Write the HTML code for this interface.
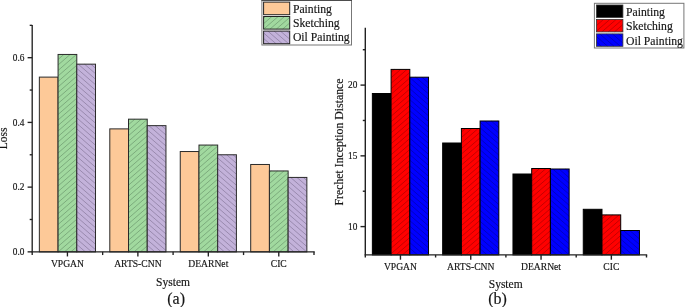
<!DOCTYPE html>
<html><head><meta charset="utf-8"><title>Figure</title>
<style>
html,body{margin:0;padding:0;background:#fff;}
body{width:685px;height:307px;overflow:hidden;}
svg{display:block;}
text{font-family:"Liberation Serif","Times New Roman",serif;fill:#151515;stroke:#151515;stroke-width:0.16px;}
</style></head><body>
<svg width="685" height="307" viewBox="0 0 685 307">
<rect width="685" height="307" fill="#fff"/>

<rect x="39.35" y="77.11" width="18.72" height="174.74" fill="#fdc998"/>
<rect x="39.35" y="77.11" width="18.72" height="174.74" fill="none" stroke="#2a2a2a" stroke-width="1"/>
<rect x="58.07" y="54.45" width="18.72" height="197.4" fill="#a1d99f"/>
<path d="M58.07 59.48L63.85 54.45M58.07 64.98L70.17 54.45M58.07 70.48L76.49 54.45M58.07 75.98L76.79 59.7M58.07 81.48L76.79 65.2M58.07 86.98L76.79 70.7M58.07 92.48L76.79 76.2M58.07 97.98L76.79 81.7M58.07 103.48L76.79 87.2M58.07 108.98L76.79 92.7M58.07 114.48L76.79 98.2M58.07 119.98L76.79 103.7M58.07 125.48L76.79 109.2M58.07 130.98L76.79 114.7M58.07 136.48L76.79 120.2M58.07 141.98L76.79 125.7M58.07 147.48L76.79 131.2M58.07 152.98L76.79 136.7M58.07 158.48L76.79 142.2M58.07 163.98L76.79 147.7M58.07 169.48L76.79 153.2M58.07 174.98L76.79 158.7M58.07 180.48L76.79 164.2M58.07 185.98L76.79 169.7M58.07 191.48L76.79 175.2M58.07 196.98L76.79 180.7M58.07 202.48L76.79 186.2M58.07 207.98L76.79 191.7M58.07 213.48L76.79 197.2M58.07 218.98L76.79 202.7M58.07 224.48L76.79 208.2M58.07 229.98L76.79 213.7M58.07 235.48L76.79 219.2M58.07 240.98L76.79 224.7M58.07 246.48L76.79 230.2M58.22 251.85L76.79 235.7M64.54 251.85L76.79 241.2M70.86 251.85L76.79 246.7" stroke="#26402a" stroke-opacity="0.6" stroke-width="0.5" fill="none"/>
<rect x="58.07" y="54.45" width="18.72" height="197.4" fill="none" stroke="#2a2a2a" stroke-width="1"/>
<rect x="76.79" y="64.16" width="18.72" height="187.69" fill="#c3b2da"/>
<path d="M76.79 249.9L79.02 251.85M76.79 244.4L85.34 251.85M76.79 238.9L91.67 251.85M76.79 233.4L95.51 249.69M76.79 227.9L95.51 244.19M76.79 222.4L95.51 238.69M76.79 216.9L95.51 233.19M76.79 211.4L95.51 227.69M76.79 205.9L95.51 222.19M76.79 200.4L95.51 216.69M76.79 194.9L95.51 211.19M76.79 189.4L95.51 205.69M76.79 183.9L95.51 200.19M76.79 178.4L95.51 194.69M76.79 172.9L95.51 189.19M76.79 167.4L95.51 183.69M76.79 161.9L95.51 178.19M76.79 156.4L95.51 172.69M76.79 150.9L95.51 167.19M76.79 145.4L95.51 161.69M76.79 139.9L95.51 156.19M76.79 134.4L95.51 150.69M76.79 128.9L95.51 145.19M76.79 123.4L95.51 139.69M76.79 117.9L95.51 134.19M76.79 112.4L95.51 128.69M76.79 106.9L95.51 123.19M76.79 101.4L95.51 117.69M76.79 95.9L95.51 112.19M76.79 90.4L95.51 106.69M76.79 84.9L95.51 101.19M76.79 79.4L95.51 95.69M76.79 73.9L95.51 90.19M76.79 68.4L95.51 84.69M78.23 64.16L95.51 79.19M84.55 64.16L95.51 73.69M90.88 64.16L95.51 68.19" stroke="#352a45" stroke-opacity="0.6" stroke-width="0.5" fill="none"/>
<rect x="76.79" y="64.16" width="18.72" height="187.69" fill="none" stroke="#2a2a2a" stroke-width="1"/>
<rect x="109.8" y="128.88" width="18.72" height="122.97" fill="#fdc998"/>
<rect x="109.8" y="128.88" width="18.72" height="122.97" fill="none" stroke="#2a2a2a" stroke-width="1"/>
<rect x="128.51" y="119.17" width="18.72" height="132.68" fill="#a1d99f"/>
<path d="M128.51 124.69L134.86 119.17M128.51 130.19L141.18 119.17M128.51 135.69L147.23 119.41M128.51 141.19L147.23 124.91M128.51 146.69L147.23 130.41M128.51 152.19L147.23 135.91M128.51 157.69L147.23 141.41M128.51 163.19L147.23 146.91M128.51 168.69L147.23 152.41M128.51 174.19L147.23 157.91M128.51 179.69L147.23 163.41M128.51 185.19L147.23 168.91M128.51 190.69L147.23 174.41M128.51 196.19L147.23 179.91M128.51 201.69L147.23 185.41M128.51 207.19L147.23 190.91M128.51 212.69L147.23 196.41M128.51 218.19L147.23 201.91M128.51 223.69L147.23 207.41M128.51 229.19L147.23 212.91M128.51 234.69L147.23 218.41M128.51 240.19L147.23 223.91M128.51 245.69L147.23 229.41M128.51 251.19L147.23 234.91M134.08 251.85L147.23 240.41M140.4 251.85L147.23 245.91M146.72 251.85L147.23 251.41" stroke="#26402a" stroke-opacity="0.6" stroke-width="0.5" fill="none"/>
<rect x="128.51" y="119.17" width="18.72" height="132.68" fill="none" stroke="#2a2a2a" stroke-width="1"/>
<rect x="147.24" y="125.65" width="18.72" height="126.2" fill="#c3b2da"/>
<path d="M147.24 250.69L148.56 251.85M147.24 245.19L154.89 251.85M147.24 239.69L161.21 251.85M147.24 234.19L165.96 250.48M147.24 228.69L165.96 244.98M147.24 223.19L165.96 239.48M147.24 217.69L165.96 233.98M147.24 212.19L165.96 228.48M147.24 206.69L165.96 222.98M147.24 201.19L165.96 217.48M147.24 195.69L165.96 211.98M147.24 190.19L165.96 206.48M147.24 184.69L165.96 200.98M147.24 179.19L165.96 195.48M147.24 173.69L165.96 189.98M147.24 168.19L165.96 184.48M147.24 162.69L165.96 178.98M147.24 157.19L165.96 173.48M147.24 151.69L165.96 167.98M147.24 146.19L165.96 162.48M147.24 140.69L165.96 156.98M147.24 135.19L165.96 151.48M147.24 129.69L165.96 145.98M148.9 125.65L165.96 140.48M155.23 125.65L165.96 134.98M161.55 125.65L165.96 129.48" stroke="#352a45" stroke-opacity="0.6" stroke-width="0.5" fill="none"/>
<rect x="147.24" y="125.65" width="18.72" height="126.2" fill="none" stroke="#2a2a2a" stroke-width="1"/>
<rect x="180.25" y="151.53" width="18.72" height="100.32" fill="#fdc998"/>
<rect x="180.25" y="151.53" width="18.72" height="100.32" fill="none" stroke="#2a2a2a" stroke-width="1"/>
<rect x="198.97" y="145.06" width="18.72" height="106.79" fill="#a1d99f"/>
<path d="M198.97 145.9L199.93 145.06M198.97 151.4L206.25 145.06M198.97 156.9L212.57 145.06M198.97 162.4L217.69 146.11M198.97 167.9L217.69 151.61M198.97 173.4L217.69 157.11M198.97 178.9L217.69 162.61M198.97 184.4L217.69 168.11M198.97 189.9L217.69 173.61M198.97 195.4L217.69 179.11M198.97 200.9L217.69 184.61M198.97 206.4L217.69 190.11M198.97 211.9L217.69 195.61M198.97 217.4L217.69 201.11M198.97 222.9L217.69 206.61M198.97 228.4L217.69 212.11M198.97 233.9L217.69 217.61M198.97 239.4L217.69 223.11M198.97 244.9L217.69 228.61M198.97 250.4L217.69 234.11M203.62 251.85L217.69 239.61M209.94 251.85L217.69 245.11M216.26 251.85L217.69 250.61" stroke="#26402a" stroke-opacity="0.6" stroke-width="0.5" fill="none"/>
<rect x="198.97" y="145.06" width="18.72" height="106.79" fill="none" stroke="#2a2a2a" stroke-width="1"/>
<rect x="217.69" y="154.77" width="18.72" height="97.08" fill="#c3b2da"/>
<path d="M217.69 251.49L218.1 251.85M217.69 245.99L224.43 251.85M217.69 240.49L230.75 251.85M217.69 234.99L236.41 251.27M217.69 229.49L236.41 245.77M217.69 223.99L236.41 240.27M217.69 218.49L236.41 234.77M217.69 212.99L236.41 229.27M217.69 207.49L236.41 223.77M217.69 201.99L236.41 218.27M217.69 196.49L236.41 212.77M217.69 190.99L236.41 207.27M217.69 185.49L236.41 201.77M217.69 179.99L236.41 196.27M217.69 174.49L236.41 190.77M217.69 168.99L236.41 185.27M217.69 163.49L236.41 179.77M217.69 157.99L236.41 174.27M220.31 154.77L236.41 168.77M226.63 154.77L236.41 163.27M232.95 154.77L236.41 157.77" stroke="#352a45" stroke-opacity="0.6" stroke-width="0.5" fill="none"/>
<rect x="217.69" y="154.77" width="18.72" height="97.08" fill="none" stroke="#2a2a2a" stroke-width="1"/>
<rect x="250.7" y="164.48" width="18.72" height="87.37" fill="#fdc998"/>
<rect x="250.7" y="164.48" width="18.72" height="87.37" fill="none" stroke="#2a2a2a" stroke-width="1"/>
<rect x="269.42" y="170.95" width="18.72" height="80.9" fill="#a1d99f"/>
<path d="M269.42 172.61L271.32 170.95M269.42 178.11L277.64 170.95M269.42 183.61L283.97 170.95M269.42 189.11L288.14 172.82M269.42 194.61L288.14 178.32M269.42 200.11L288.14 183.82M269.42 205.61L288.14 189.32M269.42 211.11L288.14 194.82M269.42 216.61L288.14 200.32M269.42 222.11L288.14 205.82M269.42 227.61L288.14 211.32M269.42 233.11L288.14 216.82M269.42 238.61L288.14 222.32M269.42 244.11L288.14 227.82M269.42 249.61L288.14 233.32M273.16 251.85L288.14 238.82M279.48 251.85L288.14 244.32M285.8 251.85L288.14 249.82" stroke="#26402a" stroke-opacity="0.6" stroke-width="0.5" fill="none"/>
<rect x="269.42" y="170.95" width="18.72" height="80.9" fill="none" stroke="#2a2a2a" stroke-width="1"/>
<rect x="288.14" y="177.42" width="18.72" height="74.43" fill="#c3b2da"/>
<path d="M288.14 246.78L293.97 251.85M288.14 241.28L300.29 251.85M288.14 235.78L306.61 251.85M288.14 230.28L306.86 246.56M288.14 224.78L306.86 241.06M288.14 219.28L306.86 235.56M288.14 213.78L306.86 230.06M288.14 208.28L306.86 224.56M288.14 202.78L306.86 219.06M288.14 197.28L306.86 213.56M288.14 191.78L306.86 208.06M288.14 186.28L306.86 202.56M288.14 180.78L306.86 197.06M290.6 177.42L306.86 191.56M296.92 177.42L306.86 186.06M303.24 177.42L306.86 180.56" stroke="#352a45" stroke-opacity="0.6" stroke-width="0.5" fill="none"/>
<rect x="288.14" y="177.42" width="18.72" height="74.43" fill="none" stroke="#2a2a2a" stroke-width="1"/>
<g stroke="#222" stroke-width="1.35" fill="none">
<line x1="32.2" y1="25.02" x2="32.2" y2="255.05"/>
<line x1="31.53" y1="251.85" x2="314.68" y2="251.85"/>
<line x1="314" y1="251.85" x2="314" y2="255.05"/>
<line x1="67.43" y1="251.85" x2="67.43" y2="256.45"/>
<line x1="102.65" y1="251.85" x2="102.65" y2="255.05"/>
<line x1="137.88" y1="251.85" x2="137.88" y2="256.45"/>
<line x1="173.1" y1="251.85" x2="173.1" y2="255.05"/>
<line x1="208.32" y1="251.85" x2="208.32" y2="256.45"/>
<line x1="243.55" y1="251.85" x2="243.55" y2="255.05"/>
<line x1="278.78" y1="251.85" x2="278.78" y2="256.45"/>
<line x1="27.6" y1="251.85" x2="32.2" y2="251.85"/>
<line x1="27.6" y1="187.13" x2="32.2" y2="187.13"/>
<line x1="27.6" y1="122.41" x2="32.2" y2="122.41"/>
<line x1="27.6" y1="57.69" x2="32.2" y2="57.69"/>
<line x1="29.7" y1="219.49" x2="32.2" y2="219.49"/>
<line x1="29.7" y1="154.77" x2="32.2" y2="154.77"/>
<line x1="29.7" y1="90.05" x2="32.2" y2="90.05"/>
<line x1="29.7" y1="25.33" x2="32.2" y2="25.33"/>
</g>
<text x="67.43" y="266.9" font-size="9.6" text-anchor="middle">VPGAN</text>
<text x="137.88" y="266.9" font-size="9.6" text-anchor="middle">ARTS-CNN</text>
<text x="208.32" y="266.9" font-size="9.6" text-anchor="middle">DEARNet</text>
<text x="278.78" y="266.9" font-size="9.6" text-anchor="middle">CIC</text>
<text x="24.4" y="255.05" font-size="9.3" text-anchor="end">0.0</text>
<text x="24.4" y="190.33" font-size="9.3" text-anchor="end">0.2</text>
<text x="24.4" y="125.61" font-size="9.3" text-anchor="end">0.4</text>
<text x="24.4" y="60.89" font-size="9.3" text-anchor="end">0.6</text>
<text x="173" y="285.5" font-size="11.5" text-anchor="middle">System</text>
<text x="176.1" y="304" font-size="16" text-anchor="middle">(a)</text>
<text transform="translate(7.4,138.4) rotate(-90)" font-size="11.5" text-anchor="middle">Loss</text>
<rect x="261.9" y="0.2" width="89.6" height="44.8" fill="#fff" stroke="#777" stroke-width="1"/>
<rect x="261.4" y="0" width="90.6" height="0.9" fill="#444"/>
<rect x="263.6" y="2.1" width="26.1" height="12.6" fill="#fdc998"/>
<rect x="263.6" y="2.1" width="26.1" height="12.6" fill="none" stroke="#222" stroke-width="1"/>
<text x="292.9" y="13.0" font-size="11.7">Painting</text>
<rect x="263.6" y="16.5" width="26.1" height="12.6" fill="#a1d99f"/>
<path d="M263.6 18.17L265.52 16.5M263.6 23.67L271.84 16.5M263.68 29.1L278.16 16.5M270 29.1L284.48 16.5M276.32 29.1L289.7 17.46M282.64 29.1L289.7 22.96M288.97 29.1L289.7 28.46" stroke="#26402a" stroke-opacity="0.6" stroke-width="0.5" fill="none"/>
<rect x="263.6" y="16.5" width="26.1" height="12.6" fill="none" stroke="#222" stroke-width="1"/>
<text x="292.9" y="27.2" font-size="11.7">Sketching</text>
<rect x="263.6" y="31.1" width="26.1" height="12.6" fill="#c3b2da"/>
<path d="M263.6 38.43L269.66 43.7M263.6 32.93L275.98 43.7M267.82 31.1L282.3 43.7M274.14 31.1L288.62 43.7M280.46 31.1L289.7 39.14M286.78 31.1L289.7 33.64" stroke="#352a45" stroke-opacity="0.6" stroke-width="0.5" fill="none"/>
<rect x="263.6" y="31.1" width="26.1" height="12.6" fill="none" stroke="#222" stroke-width="1"/>
<text x="292.9" y="41.2" font-size="11.7">Oil Painting</text>
<rect x="372.37" y="93.5" width="18.72" height="161.4" fill="#000"/>
<rect x="372.37" y="93.5" width="18.72" height="161.4" fill="none" stroke="#000" stroke-width="1"/>
<rect x="391.09" y="69.4" width="18.72" height="185.5" fill="#ff0000"/>
<path d="M391.09 72.25L394.37 69.4M391.09 77.75L400.69 69.4M391.09 83.25L407.01 69.4M391.09 88.75L409.81 72.47M391.09 94.25L409.81 77.97M391.09 99.75L409.81 83.47M391.09 105.25L409.81 88.97M391.09 110.75L409.81 94.47M391.09 116.25L409.81 99.97M391.09 121.75L409.81 105.47M391.09 127.25L409.81 110.97M391.09 132.75L409.81 116.47M391.09 138.25L409.81 121.97M391.09 143.75L409.81 127.47M391.09 149.25L409.81 132.97M391.09 154.75L409.81 138.47M391.09 160.25L409.81 143.97M391.09 165.75L409.81 149.47M391.09 171.25L409.81 154.97M391.09 176.75L409.81 160.47M391.09 182.25L409.81 165.97M391.09 187.75L409.81 171.47M391.09 193.25L409.81 176.97M391.09 198.75L409.81 182.47M391.09 204.25L409.81 187.97M391.09 209.75L409.81 193.47M391.09 215.25L409.81 198.97M391.09 220.75L409.81 204.47M391.09 226.25L409.81 209.97M391.09 231.75L409.81 215.47M391.09 237.25L409.81 220.97M391.09 242.75L409.81 226.47M391.09 248.25L409.81 231.97M391.09 253.75L409.81 237.47M396.09 254.9L409.81 242.97M402.41 254.9L409.81 248.47M408.74 254.9L409.81 253.97" stroke="#400000" stroke-opacity="0.62" stroke-width="0.5" fill="none"/>
<rect x="391.09" y="69.4" width="18.72" height="185.5" fill="none" stroke="#000" stroke-width="1"/>
<rect x="409.81" y="77.2" width="18.72" height="177.7" fill="#0000ff"/>
<path d="M409.81 253.63L411.26 254.9M409.81 248.13L417.59 254.9M409.81 242.63L423.91 254.9M409.81 237.13L428.53 253.42M409.81 231.63L428.53 247.92M409.81 226.13L428.53 242.42M409.81 220.63L428.53 236.92M409.81 215.13L428.53 231.42M409.81 209.63L428.53 225.92M409.81 204.13L428.53 220.42M409.81 198.63L428.53 214.92M409.81 193.13L428.53 209.42M409.81 187.63L428.53 203.92M409.81 182.13L428.53 198.42M409.81 176.63L428.53 192.92M409.81 171.13L428.53 187.42M409.81 165.63L428.53 181.92M409.81 160.13L428.53 176.42M409.81 154.63L428.53 170.92M409.81 149.13L428.53 165.42M409.81 143.63L428.53 159.92M409.81 138.13L428.53 154.42M409.81 132.63L428.53 148.92M409.81 127.13L428.53 143.42M409.81 121.63L428.53 137.92M409.81 116.13L428.53 132.42M409.81 110.63L428.53 126.92M409.81 105.13L428.53 121.42M409.81 99.63L428.53 115.92M409.81 94.13L428.53 110.42M409.81 88.63L428.53 104.92M409.81 83.13L428.53 99.42M409.81 77.63L428.53 93.92M415.63 77.2L428.53 88.42M421.95 77.2L428.53 82.92" stroke="#000040" stroke-opacity="0.62" stroke-width="0.5" fill="none"/>
<rect x="409.81" y="77.2" width="18.72" height="177.7" fill="none" stroke="#000" stroke-width="1"/>
<rect x="442.67" y="143" width="18.72" height="111.9" fill="#000"/>
<rect x="442.67" y="143" width="18.72" height="111.9" fill="none" stroke="#000" stroke-width="1"/>
<rect x="461.39" y="128.5" width="18.72" height="126.4" fill="#ff0000"/>
<path d="M461.39 132.09L465.52 128.5M461.39 137.59L471.84 128.5M461.39 143.09L478.16 128.5M461.39 148.59L480.11 132.3M461.39 154.09L480.11 137.8M461.39 159.59L480.11 143.3M461.39 165.09L480.11 148.8M461.39 170.59L480.11 154.3M461.39 176.09L480.11 159.8M461.39 181.59L480.11 165.3M461.39 187.09L480.11 170.8M461.39 192.59L480.11 176.3M461.39 198.09L480.11 181.8M461.39 203.59L480.11 187.3M461.39 209.09L480.11 192.8M461.39 214.59L480.11 198.3M461.39 220.09L480.11 203.8M461.39 225.59L480.11 209.3M461.39 231.09L480.11 214.8M461.39 236.59L480.11 220.3M461.39 242.09L480.11 225.8M461.39 247.59L480.11 231.3M461.39 253.09L480.11 236.8M465.63 254.9L480.11 242.3M471.95 254.9L480.11 247.8M478.28 254.9L480.11 253.3" stroke="#400000" stroke-opacity="0.62" stroke-width="0.5" fill="none"/>
<rect x="461.39" y="128.5" width="18.72" height="126.4" fill="none" stroke="#000" stroke-width="1"/>
<rect x="480.11" y="121" width="18.72" height="133.9" fill="#0000ff"/>
<path d="M480.11 254.3L480.8 254.9M480.11 248.8L487.13 254.9M480.11 243.3L493.45 254.9M480.11 237.8L498.83 254.08M480.11 232.3L498.83 248.58M480.11 226.8L498.83 243.08M480.11 221.3L498.83 237.58M480.11 215.8L498.83 232.08M480.11 210.3L498.83 226.58M480.11 204.8L498.83 221.08M480.11 199.3L498.83 215.58M480.11 193.8L498.83 210.08M480.11 188.3L498.83 204.58M480.11 182.8L498.83 199.08M480.11 177.3L498.83 193.58M480.11 171.8L498.83 188.08M480.11 166.3L498.83 182.58M480.11 160.8L498.83 177.08M480.11 155.3L498.83 171.58M480.11 149.8L498.83 166.08M480.11 144.3L498.83 160.58M480.11 138.8L498.83 155.08M480.11 133.3L498.83 149.58M480.11 127.8L498.83 144.08M480.11 122.3L498.83 138.58M484.94 121L498.83 133.08M491.26 121L498.83 127.58M497.59 121L498.83 122.08" stroke="#000040" stroke-opacity="0.62" stroke-width="0.5" fill="none"/>
<rect x="480.11" y="121" width="18.72" height="133.9" fill="none" stroke="#000" stroke-width="1"/>
<rect x="512.97" y="174" width="18.72" height="80.9" fill="#000"/>
<rect x="512.97" y="174" width="18.72" height="80.9" fill="none" stroke="#000" stroke-width="1"/>
<rect x="531.69" y="168.5" width="18.72" height="86.4" fill="#ff0000"/>
<path d="M531.69 169.93L533.33 168.5M531.69 175.43L539.66 168.5M531.69 180.93L545.98 168.5M531.69 186.43L550.41 170.14M531.69 191.93L550.41 175.64M531.69 197.43L550.41 181.14M531.69 202.93L550.41 186.64M531.69 208.43L550.41 192.14M531.69 213.93L550.41 197.64M531.69 219.43L550.41 203.14M531.69 224.93L550.41 208.64M531.69 230.43L550.41 214.14M531.69 235.93L550.41 219.64M531.69 241.43L550.41 225.14M531.69 246.93L550.41 230.64M531.69 252.43L550.41 236.14M535.17 254.9L550.41 241.64M541.49 254.9L550.41 247.14M547.82 254.9L550.41 252.64" stroke="#400000" stroke-opacity="0.62" stroke-width="0.5" fill="none"/>
<rect x="531.69" y="168.5" width="18.72" height="86.4" fill="none" stroke="#000" stroke-width="1"/>
<rect x="550.41" y="169" width="18.72" height="85.9" fill="#0000ff"/>
<path d="M550.41 249.46L556.67 254.9M550.41 243.96L562.99 254.9M550.41 238.46L569.13 254.74M550.41 232.96L569.13 249.24M550.41 227.46L569.13 243.74M550.41 221.96L569.13 238.24M550.41 216.46L569.13 232.74M550.41 210.96L569.13 227.24M550.41 205.46L569.13 221.74M550.41 199.96L569.13 216.24M550.41 194.46L569.13 210.74M550.41 188.96L569.13 205.24M550.41 183.46L569.13 199.74M550.41 177.96L569.13 194.24M550.41 172.46L569.13 188.74M552.76 169L569.13 183.24M559.08 169L569.13 177.74M565.4 169L569.13 172.24" stroke="#000040" stroke-opacity="0.62" stroke-width="0.5" fill="none"/>
<rect x="550.41" y="169" width="18.72" height="85.9" fill="none" stroke="#000" stroke-width="1"/>
<rect x="583.27" y="209.3" width="18.72" height="45.6" fill="#000"/>
<rect x="583.27" y="209.3" width="18.72" height="45.6" fill="none" stroke="#000" stroke-width="1"/>
<rect x="601.99" y="214.9" width="18.72" height="40" fill="#ff0000"/>
<path d="M601.99 218.77L606.44 214.9M601.99 224.27L612.76 214.9M601.99 229.77L619.08 214.9M601.99 235.27L620.71 218.98M601.99 240.77L620.71 224.48M601.99 246.27L620.71 229.98M601.99 251.77L620.71 235.48M604.71 254.9L620.71 240.98M611.03 254.9L620.71 246.48M617.36 254.9L620.71 251.98" stroke="#400000" stroke-opacity="0.62" stroke-width="0.5" fill="none"/>
<rect x="601.99" y="214.9" width="18.72" height="40" fill="none" stroke="#000" stroke-width="1"/>
<rect x="620.71" y="230.5" width="18.72" height="24.4" fill="#0000ff"/>
<path d="M620.71 250.12L626.21 254.9M620.71 244.62L632.53 254.9M620.71 239.12L638.85 254.9M620.71 233.62L639.43 249.9M623.45 230.5L639.43 244.4M629.77 230.5L639.43 238.9M636.09 230.5L639.43 233.4" stroke="#000040" stroke-opacity="0.62" stroke-width="0.5" fill="none"/>
<rect x="620.71" y="230.5" width="18.72" height="24.4" fill="none" stroke="#000" stroke-width="1"/>
<g stroke="#222" stroke-width="1.4" fill="none">
<line x1="365.3" y1="27.7" x2="365.3" y2="257.5"/>
<line x1="364.6" y1="254.9" x2="647.2" y2="254.9"/>
<line x1="646.5" y1="254.9" x2="646.5" y2="257.5"/>
<line x1="400.45" y1="254.9" x2="400.45" y2="259.7"/>
<line x1="435.6" y1="254.9" x2="435.6" y2="257.5"/>
<line x1="470.75" y1="254.9" x2="470.75" y2="259.7"/>
<line x1="505.9" y1="254.9" x2="505.9" y2="257.5"/>
<line x1="541.05" y1="254.9" x2="541.05" y2="259.7"/>
<line x1="576.2" y1="254.9" x2="576.2" y2="257.5"/>
<line x1="611.35" y1="254.9" x2="611.35" y2="259.7"/>
<line x1="360.5" y1="226.6" x2="365.3" y2="226.6"/>
<line x1="360.5" y1="155.85" x2="365.3" y2="155.85"/>
<line x1="360.5" y1="85.1" x2="365.3" y2="85.1"/>
<line x1="362.8" y1="191.22" x2="365.3" y2="191.22"/>
<line x1="362.8" y1="120.47" x2="365.3" y2="120.47"/>
<line x1="362.8" y1="49.72" x2="365.3" y2="49.72"/>
</g>
<text x="400.45" y="270" font-size="9.6" text-anchor="middle">VPGAN</text>
<text x="470.75" y="270" font-size="9.6" text-anchor="middle">ARTS-CNN</text>
<text x="541.05" y="270" font-size="9.6" text-anchor="middle">DEARNet</text>
<text x="611.35" y="270" font-size="9.6" text-anchor="middle">CIC</text>
<text x="357.4" y="229.8" font-size="9.3" text-anchor="end">10</text>
<text x="357.4" y="159.05" font-size="9.3" text-anchor="end">15</text>
<text x="357.4" y="88.3" font-size="9.3" text-anchor="end">20</text>
<text x="505.7" y="288.2" font-size="11.5" text-anchor="middle">System</text>
<text x="497.5" y="303.7" font-size="16" text-anchor="middle">(b)</text>
<text transform="translate(343.3,142) rotate(-90)" font-size="11.8" text-anchor="middle">Frechet Inception Distance</text>
<rect x="594.4" y="3.3" width="89.5" height="44.7" fill="#fff" stroke="#777" stroke-width="1"/>
<rect x="596.5" y="5.0" width="26.4" height="12.4" fill="#000"/>
<rect x="596.5" y="5.0" width="26.4" height="12.4" fill="none" stroke="#333" stroke-width="0.8"/>
<text x="626.0" y="15.5" font-size="11.7">Painting</text>
<rect x="596.5" y="19.5" width="26.4" height="12.4" fill="#ff0000"/>
<path d="M596.5 20.04L597.13 19.5M596.5 25.54L603.45 19.5M596.5 31.04L609.77 19.5M601.84 31.9L616.09 19.5M608.16 31.9L622.41 19.5M614.48 31.9L622.9 24.58M620.8 31.9L622.9 30.08" stroke="#400000" stroke-opacity="0.62" stroke-width="0.5" fill="none"/>
<rect x="596.5" y="19.5" width="26.4" height="12.4" fill="none" stroke="#333" stroke-width="0.8"/>
<text x="626.0" y="30.3" font-size="11.7">Sketching</text>
<rect x="596.5" y="33.9" width="26.4" height="12.4" fill="#0000ff"/>
<path d="M596.5 42.06L601.38 46.3M596.5 36.56L607.7 46.3M599.77 33.9L614.02 46.3M606.09 33.9L620.34 46.3M612.41 33.9L622.9 43.02M618.74 33.9L622.9 37.52" stroke="#000040" stroke-opacity="0.62" stroke-width="0.5" fill="none"/>
<rect x="596.5" y="33.9" width="26.4" height="12.4" fill="none" stroke="#333" stroke-width="0.8"/>
<text x="626.0" y="44.8" font-size="11.7">Oil Painting</text>
</svg></body></html>
